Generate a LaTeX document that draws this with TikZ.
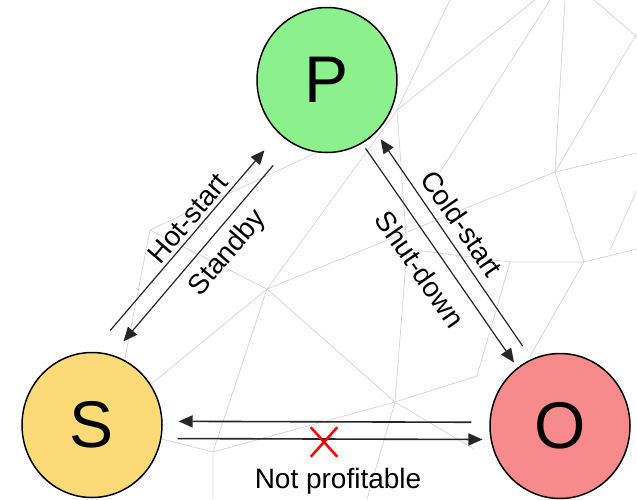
\documentclass[tikz,border=0pt]{standalone}
\usepackage{fontspec}
\setmainfont{Liberation Sans}
\usetikzlibrary{shapes.geometric,shapes.misc,arrows.meta,positioning}

\definecolor{pgreen}{RGB}{140,240,140}
\definecolor{syellow}{RGB}{253,218,120}
\definecolor{ored}{RGB}{247,138,138}

\begin{document}
\begin{tikzpicture}[x=1pt,y=-1pt,
    mode/.style={ellipse,draw,line width=1.5pt,minimum width=140pt,minimum height=145pt,inner sep=0pt,font=\fontsize{66}{70}\selectfont},
    flow/.style={-{Triangle[length=14pt,width=12pt]},line width=1.2pt,draw=black!85},
    lbl/.style={font=\fontsize{28}{32}\selectfont,inner sep=0pt,sloped},
    nope/.style={-,shorten <=0pt,shorten >=0pt,cross out,draw=red,line width=2.5pt,minimum width=24pt,minimum height=27pt,inner sep=0pt},
    net/.style={draw=black!17,line width=0.7pt}]
    \useasboundingbox (0,0) rectangle (637,499);

    % Background mesh
    \draw[net] (150,230) -- (318,152) (150,230) -- (267,289) (150,230) -- (125,358)
        (267,289) -- (150,385) (267,289) -- (213,452) (267,289) -- (395,402)
        (267,289) -- (555,172) (213,452) -- (150,436) (213,452) -- (395,402)
        (213,452) -- (213,499) (397,110) -- (450,0) (397,110) -- (535,0)
        (397,110) -- (407,249) -- (395,402) (397,110) -- (267,289)
        (555,172) -- (565,0) (555,172) -- (637,33) (555,172) -- (637,153)
        (555,172) -- (584,262) (584,262) -- (637,249) (584,262) -- (510,262)
        (584,262) -- (530,356) (510,262) -- (477,376) -- (395,402)
        (510,262) -- (407,249) (395,402) -- (367,499) (395,402) -- (474,449)
        (594,0) -- (637,37) (550,0) -- (440,172) (637,190) -- (610,250);

    % States
    \node[mode,fill=pgreen] (P) at (327,80) {P};
    \node[mode,fill=syellow] (S) at (92,425) {S};
    \node[mode,fill=ored] (O) at (560,426) {O};

    % Left side
    \draw[flow,shorten <=28pt,shorten >=22pt] (S.90) -- node[lbl,pos=.57,above=3.5pt] {Hot-start} (P.228);
    \draw[flow,shorten <=28.6pt,shorten >=17.6pt] (P.241) -- node[lbl,pos=.45,below=9pt] {Standby} (S.74);

    % Right side
    \draw[flow,shorten <=6pt,shorten >=6pt] (P.299) -- node[lbl,midway,below=13pt] {Shut-down} (O.126);
    \draw[flow,shorten <=15.8pt,shorten >=8pt] (O.113) -- node[lbl,pos=.55,above=8.5pt] {Cold-start} (P.313);

    % Bottom
    \draw[flow,line width=1.6pt,shorten <=18pt,shorten >=16pt] (O.177) -- (S.3);
    \draw[flow,line width=1.6pt,shorten <=16pt,shorten >=8pt] (S.349) --
        node[nope,pos=.494,yshift=-3pt] (nox) {} (O.191);
    \node[font=\fontsize{28}{32}\selectfont,inner sep=0pt,below=11pt of nox,xshift=14pt] (np) {Not profitable};
\end{tikzpicture}
\end{document}
